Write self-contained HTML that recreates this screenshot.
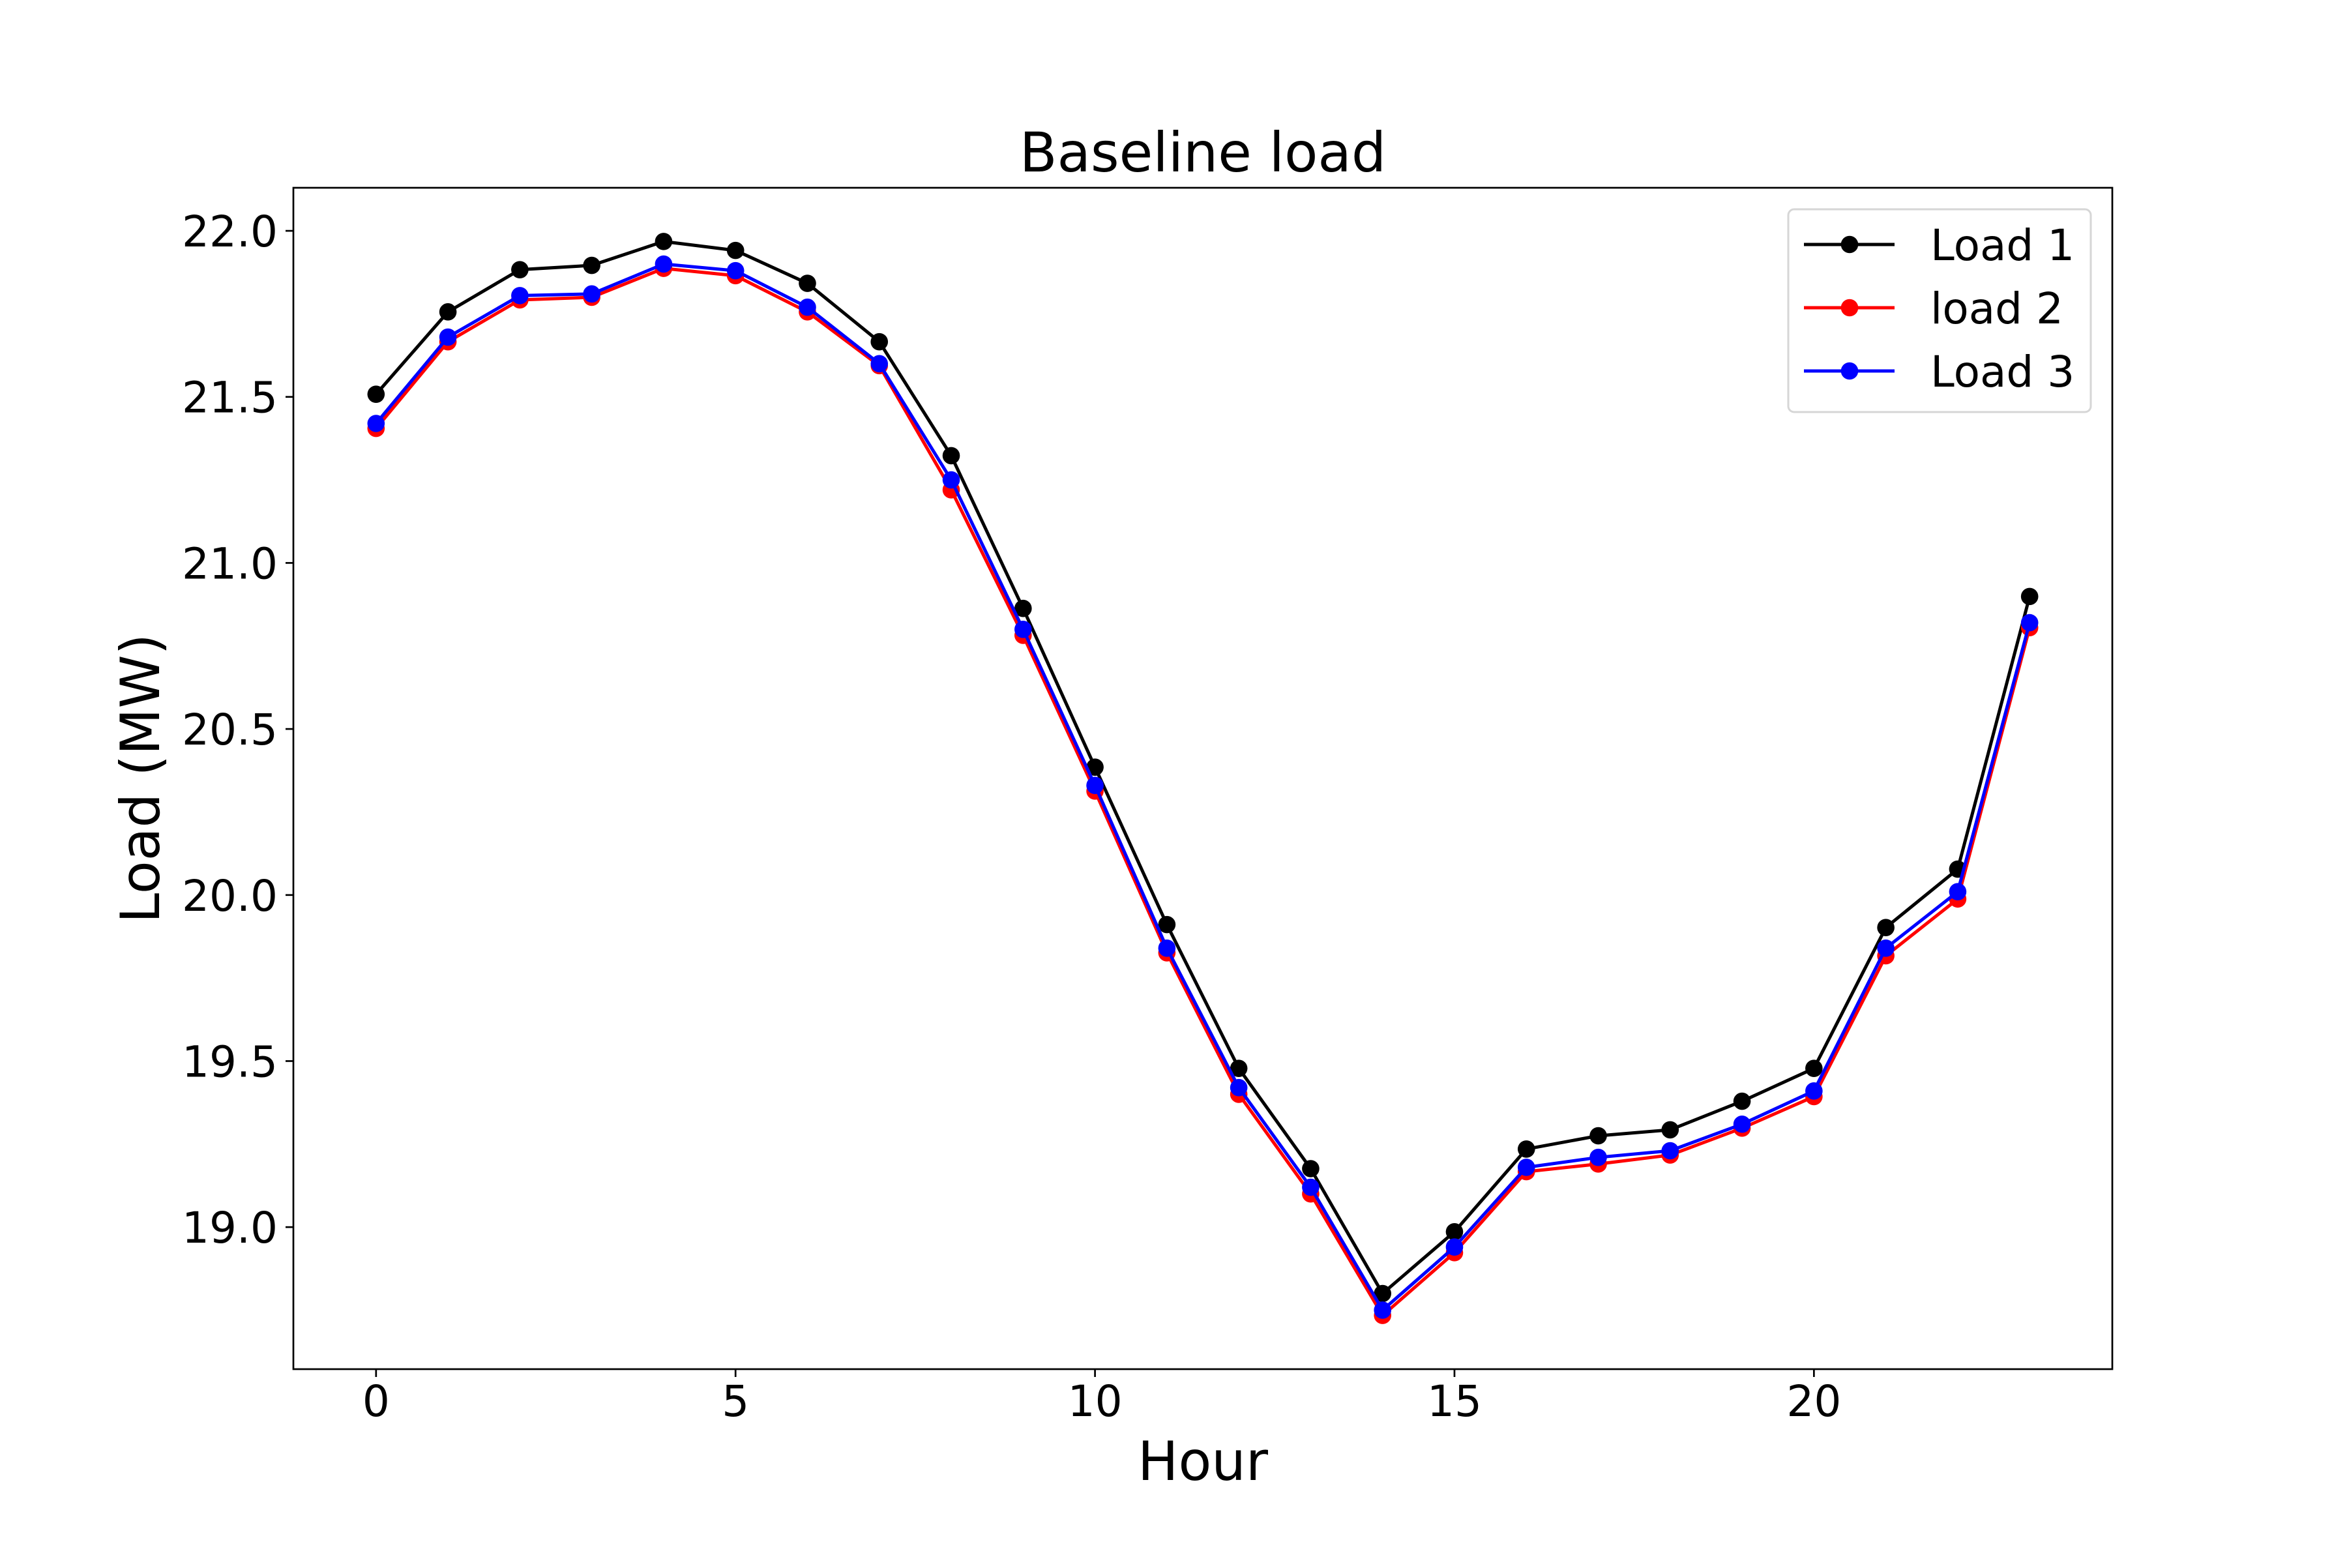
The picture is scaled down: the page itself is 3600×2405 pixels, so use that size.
<!DOCTYPE html>
<html><head><meta charset="utf-8"><style>
html,body{margin:0;padding:0;background:#fff;}
svg text{font-family:"DejaVu Sans","Liberation Sans",sans-serif;fill:#000;}
</style></head><body>
<svg id="chart" width="3600" height="2400" viewBox="0 0 3600 2400" xmlns="http://www.w3.org/2000/svg">
<rect x="0" y="0" width="3600" height="2400" fill="#fff"/>
<text x="1845" y="263" font-size="84" text-anchor="middle">Baseline load</text>
<text x="1845" y="2270" font-size="83" text-anchor="middle">Hour</text>
<text transform="translate(244,1194) rotate(-90)" font-size="83" text-anchor="middle">Load (MW)</text>
<g id="plot"></g>
</svg>
<script>
const hours = [0,1,2,3,4,5,6,7,8,9,10,11,12,13,14,15,16,17,18,19,20,21,22,23];
const load1 = [21.508,21.756,21.883,21.896,21.968,21.941,21.842,21.666,21.323,20.863,20.385,19.911,19.478,19.176,18.800,18.986,19.235,19.275,19.293,19.379,19.478,19.902,20.078,20.899];
const load2 = [21.405,21.666,21.792,21.800,21.887,21.865,21.756,21.594,21.220,20.782,20.313,19.826,19.400,19.100,18.734,18.923,19.167,19.190,19.217,19.298,19.393,19.817,19.988,20.805];
const load3 = [21.420,21.680,21.805,21.810,21.900,21.880,21.770,21.600,21.250,20.800,20.330,19.840,19.420,19.120,18.750,18.940,19.180,19.210,19.230,19.310,19.410,19.840,20.010,20.820];
const xTicks = [0,5,10,15,20];
const yTicks = [19.0,19.5,20.0,20.5,21.0,21.5,22.0];
const seriesNames = ["Load 1","load 2","Load 3"];

const NS = "http://www.w3.org/2000/svg";
const L = 450, R = 3240, T = 288, B = 2100;
const all = load1.concat(load2, load3);
const ymin0 = Math.min(...all), ymax0 = Math.max(...all);
const ypad = (ymax0 - ymin0) * 0.05;
const yLo = ymin0 - ypad, yHi = ymax0 + ypad;
const xLo = hours[0] - (hours[hours.length-1]-hours[0])*0.05;
const xHi = hours[hours.length-1] + (hours[hours.length-1]-hours[0])*0.05;
function xs(v){ return L + (v - xLo) / (xHi - xLo) * (R - L); }
function ys(v){ return B - (v - yLo) / (yHi - yLo) * (B - T); }
const plot = document.getElementById('plot');
function mk(tag, attrs, parent){
  const e = document.createElementNS(NS, tag);
  for (const k in attrs) e.setAttribute(k, attrs[k]);
  (parent || plot).appendChild(e);
  return e;
}
xTicks.forEach(t => {
  const ln = mk('line', {x1: xs(t), x2: xs(t), y1: B, y2: B + 12, stroke: '#000', 'stroke-width': 2.7});
  
  
  const tx = mk('text', {x: xs(t), y: 2172, 'font-size': 66, 'text-anchor': 'middle'});
  tx.textContent = String(t);
  
  
});
yTicks.forEach(t => {
  const ln = mk('line', {x1: L - 12, x2: L, y1: ys(t), y2: ys(t), stroke: '#000', 'stroke-width': 2.7});
  
  
  const tx = mk('text', {x: 426, y: ys(t) + 24, 'font-size': 66, 'text-anchor': 'end'});
  tx.textContent = t.toFixed(1);
  
  
});
const seriesData = [load1, load2, load3];
const colors = ['#000000', '#ff0000', '#0000ff'];
const sNames = ['series-load-1', 'series-load-2', 'series-load-3'];
seriesData.forEach((data, si) => {
  const g = mk('g', {});
  
  
  const pts = data.map((v, i) => xs(hours[i]) + ',' + ys(v)).join(' ');
  const pl = mk('polyline', {points: pts, fill: 'none', stroke: colors[si], 'stroke-width': 5, 'stroke-linejoin': 'round'}, g);
  
  
  data.forEach((v, i) => {
    const c = mk('circle', {cx: xs(hours[i]), cy: ys(v), r: 13.3, fill: colors[si]}, g);
    
    
  });
});
const fr = mk('rect', {x: L, y: T, width: R - L, height: B - T, fill: 'none', stroke: '#000', 'stroke-width': 2.7});


const lg = mk('g', {});


const lb = mk('rect', {x: 2743, y: 321, width: 464, height: 311, rx: 9, fill: '#fff', 'fill-opacity': 0.8, stroke: '#d6d6d6', 'stroke-width': 3}, lg);


seriesNames.forEach((n, i) => {
  const y = 375 + i * 97;
  const eg = mk('g', {}, lg);
  
  
  mk('line', {x1: 2767, x2: 2906, y1: y, y2: y, stroke: colors[i], 'stroke-width': 5}, eg);
  mk('circle', {cx: 2837, cy: y, r: 13.3, fill: colors[i]}, eg);
  const t = mk('text', {x: 2961, y: y + 24, 'font-size': 66}, eg);
  t.textContent = n;
});
</script>
</body></html>
